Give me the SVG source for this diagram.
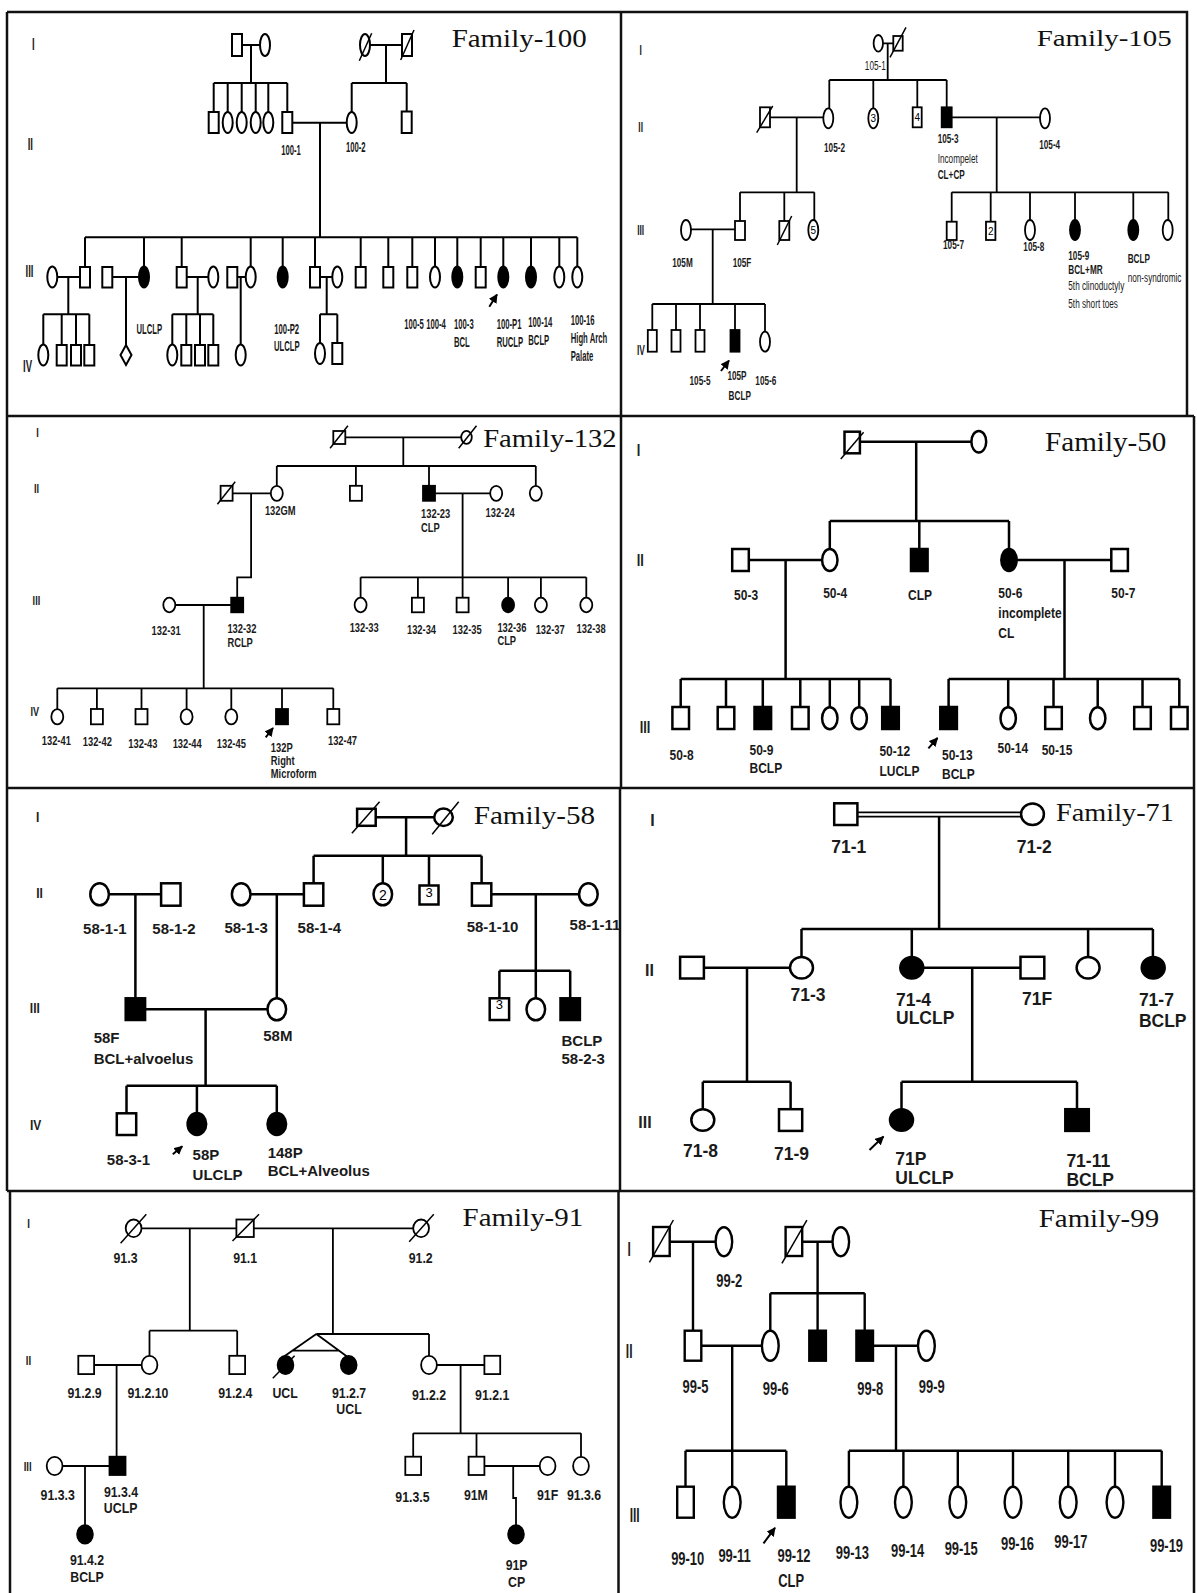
<svg xmlns="http://www.w3.org/2000/svg" width="1197" height="1593" viewBox="0 0 1197 1593">
<defs>
<style>
.ln{fill:none;stroke:#000}
.s{fill:#fff;stroke:#000}
.f{fill:#000;stroke:#000}
.d{stroke:#000;stroke-width:1.5}
.ar{stroke:#000;stroke-width:2;marker-end:url(#ah)}
.t{font-family:"Liberation Sans",Arial,sans-serif;font-weight:bold;fill:#1a1a1a}
.r{font-family:"Liberation Sans",Arial,sans-serif;fill:#1a1a1a}
.g{font-family:"Liberation Sans",Arial,sans-serif;font-weight:bold;fill:#222;text-anchor:middle}
.ttl{font-family:"Liberation Serif","Times New Roman",serif;fill:#111}
.fr{fill:none;stroke:#111;stroke-width:2.5}
.n{font-family:"Liberation Sans",Arial,sans-serif;fill:#000;text-anchor:middle}
</style>
<marker id="ah" viewBox="0 0 10 10" refX="9" refY="5" markerWidth="4.5" markerHeight="4.5" orient="auto" markerUnits="strokeWidth"><path d="M0,0L10,5L0,10z" fill="#000"/></marker>
</defs>
<rect width="1197" height="1593" fill="#fff"/>

<g id="frames" class="fr">
<path d="M7,12H1187V416M7,12V1191M621,12V416M7,416H1194M621,416V788M1194,416V1191M7,788H1194M620,788V1191M7,1191H1194M10,1191V1593M618.5,1191V1593M1194,1191V1593"/>
</g>

<!-- ================= Family-100 ================= -->
<g id="fam100" stroke-width="2" font-size="14">
<text class="ttl" x="451.7" y="46.7" font-size="25" textLength="135" lengthAdjust="spacingAndGlyphs">Family-100</text>
<g class="g" font-size="16">
<text transform="translate(33.3 50) scale(.6 1)">I</text>
<text transform="translate(30.3 150) scale(.6 1)">II</text>
<text transform="translate(29.5 277) scale(.6 1)">III</text>
<text transform="translate(27.5 371.7) scale(.6 1)">IV</text>
</g>
<g id="f100-links" class="ln">
<path d="M242,45H260M251,45V83M213.7,83H287.3M213.7,83V112M227.7,83V112M241.7,83V112M255.7,83V112M268.3,83V112M287.3,83V112M370,45H402M386,45V83M351.7,83H406.7M351.7,83V112M406.7,83V111M292.3,122.7H346.7M320,122.7V237.3M85,237.3H577.3"/>
<path d="M85,237.3V267M144,237.3V266.5M181.7,237.3V267M250.7,237.3V266.5M282.7,237.3V266.5M315,237.3V267M360.7,237.3V267M388.3,237.3V267M412.3,237.3V267M435,237.3V266.5M457.3,237.3V266.5M480.7,237.3V267M503.3,237.3V266.5M531,237.3V266.5M559.3,237.3V266.5M577.3,237.3V266.5"/>
<path d="M57.3,277H80M68.3,277V314.3M43.3,314.3H89.3M43.3,314.3V344.5M61.7,314.3V345M76,314.3V345M89.3,314.3V345M112.3,277H139M126,277V345M186.7,277H208.3M197.7,277V314.3M172.3,314.3H213.3M172.3,314.3V344.5M186.3,314.3V345M200,314.3V345M213.3,314.3V345M237.3,277H245.7M240.7,277V344.5M320,277H332.3M326.7,277V314.3M320,314.3H337.3M320,314.3V343M337.3,314.3V343"/>
<line class="ar" x1="489.3" y1="306.7" x2="497" y2="294.5"/>
</g>
<g id="f100-I1"><rect class="s" x="232" y="34" width="10" height="22"/></g>
<g id="f100-I2"><ellipse class="s" cx="265" cy="45" rx="5" ry="11"/></g>
<g id="f100-I3"><ellipse class="s" cx="365" cy="45" rx="5" ry="11"/><line class="d" x1="359.3" y1="60.7" x2="371.7" y2="33.3"/></g>
<g id="f100-I4"><rect class="s" x="402" y="34" width="10" height="22"/><line class="d" x1="400.7" y1="60" x2="414" y2="30"/></g>
<g id="f100-II1"><rect class="s" x="208.7" y="112" width="10" height="21"/></g>
<g id="f100-II2"><ellipse class="s" cx="227.7" cy="122.5" rx="5" ry="10.5"/></g>
<g id="f100-II3"><ellipse class="s" cx="241.7" cy="122.5" rx="5" ry="10.5"/></g>
<g id="f100-II4"><ellipse class="s" cx="255.7" cy="122.5" rx="5" ry="10.5"/></g>
<g id="f100-II5"><ellipse class="s" cx="268.3" cy="122.5" rx="5" ry="10.5"/></g>
<g id="f100-1"><rect class="s" x="282.3" y="112" width="10" height="21"/><text class="t" text-anchor="middle" transform="translate(291 155) scale(.55 1)">100-1</text></g>
<g id="f100-2"><ellipse class="s" cx="351.7" cy="122.5" rx="5" ry="10.5"/><text class="t" text-anchor="middle" transform="translate(355.8 151.7) scale(.55 1)">100-2</text></g>
<g id="f100-II8"><rect class="s" x="401.7" y="111.5" width="10" height="21.5"/></g>
<g id="f100-III1"><ellipse class="s" cx="52.3" cy="277" rx="5" ry="10.5"/></g>
<g id="f100-III2"><rect class="s" x="80" y="267" width="10" height="20.5"/></g>
<g id="f100-III3"><rect class="s" x="102.3" y="267" width="10" height="20.5"/></g>
<g id="f100-III4"><ellipse class="f" cx="144" cy="277" rx="5" ry="10.5"/><text class="t" text-anchor="middle" transform="translate(149.3 334) scale(.55 1)">ULCLP</text></g>
<g id="f100-III5"><rect class="s" x="176.7" y="267" width="10" height="20.5"/></g>
<g id="f100-III6"><ellipse class="s" cx="213.3" cy="277" rx="5" ry="10.5"/></g>
<g id="f100-III7"><rect class="s" x="227.3" y="267" width="10" height="20.5"/></g>
<g id="f100-III8"><ellipse class="s" cx="250.7" cy="277" rx="5" ry="10.5"/></g>
<g id="f100-P2"><ellipse class="f" cx="282.7" cy="277" rx="5" ry="10.5"/><text class="t" text-anchor="middle" transform="translate(286.7 334) scale(.55 1)">100-P2</text><text class="t" text-anchor="middle" transform="translate(286.7 351) scale(.55 1)">ULCLP</text></g>
<g id="f100-III10"><rect class="s" x="310" y="267" width="10" height="20.5"/></g>
<g id="f100-III11"><ellipse class="s" cx="337.3" cy="277" rx="5" ry="10.5"/></g>
<g id="f100-III12"><rect class="s" x="355.7" y="267" width="10" height="20.5"/></g>
<g id="f100-III13"><rect class="s" x="383.3" y="267" width="10" height="20.5"/></g>
<g id="f100-5"><rect class="s" x="407.3" y="267" width="10" height="20.5"/><text class="t" text-anchor="middle" transform="translate(414 329) scale(.55 1)">100-5</text></g>
<g id="f100-4"><ellipse class="s" cx="435" cy="277" rx="5" ry="10.5"/><text class="t" text-anchor="middle" transform="translate(436 329) scale(.55 1)">100-4</text></g>
<g id="f100-3"><ellipse class="f" cx="457.3" cy="277" rx="5" ry="10.5"/><text class="t" transform="translate(454 329) scale(.55 1)">100-3</text><text class="t" transform="translate(454 347) scale(.55 1)">BCL</text></g>
<g id="f100-III17"><rect class="s" x="475.7" y="267" width="10" height="20.5"/></g>
<g id="f100-P1"><ellipse class="f" cx="503.3" cy="277" rx="5" ry="10.5"/><text class="t" transform="translate(496.7 329) scale(.55 1)">100-P1</text><text class="t" transform="translate(496.7 347) scale(.55 1)">RUCLP</text></g>
<g id="f100-14"><ellipse class="f" cx="531" cy="277" rx="5" ry="10.5"/><text class="t" transform="translate(528.3 327) scale(.55 1)">100-14</text><text class="t" transform="translate(528.3 345) scale(.55 1)">BCLP</text></g>
<g id="f100-III20"><ellipse class="s" cx="559.3" cy="277" rx="5" ry="10.5"/></g>
<g id="f100-16"><ellipse class="s" cx="577.3" cy="277" rx="5" ry="10.5"/><text class="t" transform="translate(570.7 325) scale(.55 1)">100-16</text><text class="t" transform="translate(570.7 343) scale(.55 1)">High Arch</text><text class="t" transform="translate(570.7 361) scale(.55 1)">Palate</text></g>
<g id="f100-IV1"><ellipse class="s" cx="43.3" cy="355" rx="5" ry="10.5"/></g>
<g id="f100-IV2"><rect class="s" x="56.7" y="345" width="10" height="20.5"/></g>
<g id="f100-IV3"><rect class="s" x="71" y="345" width="10" height="20.5"/></g>
<g id="f100-IV4"><rect class="s" x="84.3" y="345" width="10" height="20.5"/></g>
<g id="f100-IV5"><polygon class="s" points="126,345 131.5,355 126,365 120.5,355"/></g>
<g id="f100-IV6"><ellipse class="s" cx="172.3" cy="355" rx="5" ry="10.5"/></g>
<g id="f100-IV7"><rect class="s" x="181.3" y="345" width="10" height="20.5"/></g>
<g id="f100-IV8"><rect class="s" x="195" y="345" width="10" height="20.5"/></g>
<g id="f100-IV9"><rect class="s" x="208.3" y="345" width="10" height="20.5"/></g>
<g id="f100-IV10"><ellipse class="s" cx="240.7" cy="355" rx="5" ry="10.5"/></g>
<g id="f100-IV11"><ellipse class="s" cx="320" cy="353.5" rx="5" ry="10.5"/></g>
<g id="f100-IV12"><rect class="s" x="332.3" y="343" width="10" height="21"/></g>
</g>

<!-- ================= Family-105 ================= -->
<g id="fam105" stroke-width="1.8" font-size="13">
<text class="ttl" x="1036.7" y="45.7" font-size="23" textLength="135" lengthAdjust="spacingAndGlyphs">Family-105</text>
<g class="g" font-size="14">
<text transform="translate(640.7 55) scale(.6 1)">I</text>
<text transform="translate(640.7 131.7) scale(.6 1)">II</text>
<text transform="translate(640.7 235) scale(.6 1)">III</text>
<text transform="translate(641 355) scale(.6 1)">IV</text>
</g>
<g id="f105-links" class="ln">
<path d="M883,43.3H893.3M887.7,43.3V80M829.3,80H946.7M829.3,80V108.3M873.3,80V108.3M917.3,80V107.3M946.7,80V107.3"/>
<path d="M770,117.3H823.3M796.7,117.3V192.3M740,192.3H814.3M740,192.3V221M784.3,192.3V221M814.3,192.3V220"/>
<path d="M951.7,117.3H1040M996.7,117.3V192.3M951.7,192.3H1168.3M951.7,192.3V221.7M990.7,192.3V221.7M1030,192.3V220M1075,192.3V220M1133.3,192.3V220M1168.3,192.3V220"/>
<path d="M691,229.3H735M712.7,229.3V304M652.3,304H765M652.3,304V330M676,304V330M700,304V330M735,304V330M765,304V331.7"/>
<line class="ar" x1="721" y1="371" x2="729" y2="360.5"/>
</g>
<g id="f105-1"><ellipse class="s" cx="878.3" cy="43.3" rx="4.7" ry="8.3"/><text class="r" text-anchor="middle" transform="translate(875.3 70) scale(.63 1)">105-1</text></g>
<g id="f105-I2"><rect class="s" x="893.3" y="36" width="9.4" height="14.7"/><line class="d" x1="890" y1="57.3" x2="906" y2="27.3"/></g>
<g id="f105-II1"><rect class="s" x="760" y="107.3" width="10" height="20"/><line class="d" x1="756.7" y1="132.7" x2="772.7" y2="106"/></g>
<g id="f105-2"><ellipse class="s" cx="828.3" cy="118.3" rx="5" ry="10"/><text class="t" text-anchor="middle" transform="translate(834.5 151.7) scale(.63 1)">105-2</text></g>
<g id="f105-II3"><ellipse class="s" cx="873.3" cy="118.3" rx="5" ry="10"/><text class="n" x="873.3" y="121.8" font-size="10">3</text></g>
<g id="f105-II4"><rect class="s" x="912.7" y="107.3" width="9" height="20"/><text class="n" x="917.2" y="121" font-size="10">4</text></g>
<g id="f105-3"><rect class="f" x="941.7" y="107.3" width="10" height="20"/><text class="t" transform="translate(937.7 143) scale(.63 1)">105-3</text><text class="r" transform="translate(937.7 163) scale(.63 1)">Incompelet</text><text class="t" transform="translate(937.7 179) scale(.63 1)">CL+CP</text></g>
<g id="f105-4"><ellipse class="s" cx="1045" cy="118.3" rx="5" ry="10"/><text class="t" text-anchor="middle" transform="translate(1049.7 149) scale(.63 1)">105-4</text></g>
<g id="f105M"><ellipse class="s" cx="686" cy="230" rx="5" ry="10"/><text class="t" text-anchor="middle" transform="translate(682.5 266.7) scale(.63 1)">105M</text></g>
<g id="f105F"><rect class="s" x="735" y="221" width="10" height="19"/><text class="t" text-anchor="middle" transform="translate(742 266.7) scale(.63 1)">105F</text></g>
<g id="f105-III3"><rect class="s" x="779.3" y="221" width="10" height="19"/><line class="d" x1="777.3" y1="245" x2="791.7" y2="216"/></g>
<g id="f105-III4"><ellipse class="s" cx="813.3" cy="230" rx="5" ry="10"/><text class="n" x="813.3" y="233.5" font-size="10">5</text></g>
<g id="f105-7"><rect class="s" x="946.7" y="221.7" width="10" height="18.3"/><text class="t" text-anchor="middle" transform="translate(953.5 249) scale(.63 1)">105-7</text></g>
<g id="f105-III6"><rect class="s" x="986" y="221.7" width="9.4" height="18.3"/><text class="n" x="990.7" y="234.5" font-size="10">2</text></g>
<g id="f105-8"><ellipse class="s" cx="1030" cy="230" rx="5" ry="10"/><text class="t" text-anchor="middle" transform="translate(1033.8 251) scale(.63 1)">105-8</text></g>
<g id="f105-9"><ellipse class="f" cx="1075" cy="230" rx="5" ry="10"/><text class="t" transform="translate(1068.3 260) scale(.63 1)">105-9</text><text class="t" transform="translate(1068.3 274) scale(.63 1)">BCL+MR</text><text class="r" transform="translate(1068.3 290) scale(.63 1)">5th clinoductyly</text><text class="r" transform="translate(1068.3 308) scale(.63 1)">5th short toes</text></g>
<g id="f105-III9"><ellipse class="f" cx="1133.3" cy="230" rx="5" ry="10"/><text class="t" transform="translate(1127.7 263) scale(.63 1)">BCLP</text><text class="r" transform="translate(1127.7 282) scale(.63 1)">non-syndromic</text></g>
<g id="f105-III10"><ellipse class="s" cx="1167.7" cy="230" rx="5" ry="10"/></g>
<g id="f105-IV1"><rect class="s" x="647.8" y="330" width="9" height="21.7"/></g>
<g id="f105-IV2"><rect class="s" x="671.5" y="330" width="9" height="21.7"/></g>
<g id="f105-5"><rect class="s" x="695.5" y="330" width="9" height="21.7"/><text class="t" text-anchor="middle" transform="translate(700 385) scale(.63 1)">105-5</text></g>
<g id="f105P"><rect class="f" x="730.5" y="330" width="9" height="21.7"/><text class="t" text-anchor="middle" transform="translate(737 380) scale(.63 1)">105P</text><text class="t" text-anchor="middle" transform="translate(739.7 400) scale(.63 1)">BCLP</text></g>
<g id="f105-6"><ellipse class="s" cx="765" cy="341.7" rx="5" ry="10"/><text class="t" text-anchor="middle" transform="translate(765.8 385) scale(.63 1)">105-6</text></g>
</g>

<!-- ================= Family-132 ================= -->
<g id="fam132" stroke-width="1.8" font-size="13">
<text class="ttl" x="483.2" y="446.7" font-size="25" textLength="133.5" lengthAdjust="spacingAndGlyphs">Family-132</text>
<g class="g" font-size="13">
<text transform="translate(37.6 437) scale(.7 1)">I</text>
<text transform="translate(36.4 493) scale(.7 1)">II</text>
<text transform="translate(36.4 605) scale(.7 1)">III</text>
<text transform="translate(34.8 716) scale(.7 1)">IV</text>
</g>
<g id="f132-links" class="ln">
<path d="M345.2,437.3H461.8M403.3,437.3V466M276.8,466H535.8M276.8,466V485.8M355.9,466V485.8M429,466V485.8M535.8,466V485.8"/>
<path d="M232.5,493.3H270.8M251.1,493.3V577.3H237.2V597.7M435,493.3H490.2M462.6,493.3V577.3M360.6,577.3H586.3M360.6,577.3V597.7M417.9,577.3V597.7M462.6,577.3V597.7M508.1,577.3V597.7M540.9,577.3V597.7M586.3,577.3V597.7"/>
<path d="M175.3,605H231.2M203.7,605V688.3M57.3,688.3H333.3M57.3,688.3V709M96.9,688.3V709M141.5,688.3V709M186.6,688.3V709M231.3,688.3V709M282,688.3V709M333.3,688.3V709"/>
<line class="ar" x1="265.7" y1="737.3" x2="273" y2="728"/>
</g>
<g id="f132-I1"><rect class="s" x="333.3" y="431" width="12" height="13"/><line class="d" x1="330.1" y1="448.3" x2="347.9" y2="425.7"/></g>
<g id="f132-I2"><ellipse class="s" cx="466.5" cy="437.3" rx="5.3" ry="6.5"/><line class="d" x1="458.7" y1="448.3" x2="476.5" y2="425.7"/></g>
<g id="f132-II1"><rect class="s" x="220.6" y="485.8" width="12" height="15"/><line class="d" x1="217.4" y1="504.3" x2="235.2" y2="481.7"/></g>
<g id="f132GM"><ellipse class="s" cx="276.8" cy="493.3" rx="6" ry="7.5"/><text class="t" transform="translate(264.9 515) scale(.72 1)">132GM</text></g>
<g id="f132-II3"><rect class="s" x="349.9" y="485.8" width="12" height="15"/></g>
<g id="f132-23"><rect class="f" x="423" y="485.8" width="12" height="15"/><text class="t" transform="translate(421.1 518) scale(.72 1)">132-23</text><text class="t" transform="translate(421.1 531.7) scale(.72 1)">CLP</text></g>
<g id="f132-24"><ellipse class="s" cx="496.2" cy="493.3" rx="6" ry="7.5"/><text class="t" transform="translate(485.5 516.7) scale(.72 1)">132-24</text></g>
<g id="f132-II6"><ellipse class="s" cx="535.8" cy="493.3" rx="6" ry="7.5"/></g>
<g id="f132-31"><ellipse class="s" cx="169.3" cy="605" rx="6" ry="7.3"/><text class="t" text-anchor="middle" transform="translate(166.1 635) scale(.72 1)">132-31</text></g>
<g id="f132-32"><rect class="f" x="231.2" y="597.7" width="12" height="14.6"/><text class="t" transform="translate(227.4 633.3) scale(.72 1)">132-32</text><text class="t" transform="translate(227.4 647) scale(.72 1)">RCLP</text></g>
<g id="f132-33"><ellipse class="s" cx="360.6" cy="605" rx="6" ry="7.3"/><text class="t" text-anchor="middle" transform="translate(364.2 632) scale(.72 1)">132-33</text></g>
<g id="f132-34"><rect class="s" x="411.9" y="597.7" width="12" height="14.6"/><text class="t" text-anchor="middle" transform="translate(421.5 634) scale(.72 1)">132-34</text></g>
<g id="f132-35"><rect class="s" x="456.6" y="597.7" width="12" height="14.6"/><text class="t" text-anchor="middle" transform="translate(467.1 634) scale(.72 1)">132-35</text></g>
<g id="f132-36"><ellipse class="f" cx="508.1" cy="605" rx="6" ry="7.3"/><text class="t" transform="translate(497.4 632) scale(.72 1)">132-36</text><text class="t" transform="translate(497.4 645) scale(.72 1)">CLP</text></g>
<g id="f132-37"><ellipse class="s" cx="540.9" cy="605" rx="6" ry="7.3"/><text class="t" text-anchor="middle" transform="translate(550.2 634) scale(.72 1)">132-37</text></g>
<g id="f132-38"><ellipse class="s" cx="586.3" cy="605" rx="6" ry="7.3"/><text class="t" text-anchor="middle" transform="translate(591.1 633) scale(.72 1)">132-38</text></g>
<g id="f132-41"><ellipse class="s" cx="57.3" cy="716.7" rx="6" ry="7.6"/><text class="t" text-anchor="middle" transform="translate(56.3 745) scale(.72 1)">132-41</text></g>
<g id="f132-42"><rect class="s" x="90.9" y="709" width="12" height="15.3"/><text class="t" text-anchor="middle" transform="translate(97.3 746) scale(.72 1)">132-42</text></g>
<g id="f132-43"><rect class="s" x="135.5" y="709" width="12" height="15.3"/><text class="t" text-anchor="middle" transform="translate(142.9 748) scale(.72 1)">132-43</text></g>
<g id="f132-44"><ellipse class="s" cx="186.6" cy="716.7" rx="6" ry="7.6"/><text class="t" text-anchor="middle" transform="translate(187.2 748) scale(.72 1)">132-44</text></g>
<g id="f132-45"><ellipse class="s" cx="231.3" cy="716.7" rx="6" ry="7.6"/><text class="t" text-anchor="middle" transform="translate(231.3 748) scale(.72 1)">132-45</text></g>
<g id="f132P"><rect class="f" x="276" y="709" width="12" height="15.3"/><text class="t" transform="translate(270.8 752) scale(.72 1)">132P</text><text class="t" transform="translate(270.8 765) scale(.72 1)">Right</text><text class="t" transform="translate(270.8 778) scale(.72 1)">Microform</text></g>
<g id="f132-47"><rect class="s" x="327.3" y="709" width="12" height="15.3"/><text class="t" text-anchor="middle" transform="translate(342.5 745) scale(.72 1)">132-47</text></g>
</g>

<!-- ================= Family-50 ================= -->
<g id="fam50" stroke-width="2.5" font-size="15">
<text class="ttl" x="1045" y="450.7" font-size="27" textLength="121.4" lengthAdjust="spacingAndGlyphs">Family-50</text>
<g class="g" font-size="17">
<text transform="translate(638.4 455.7) scale(.75 1)">I</text>
<text transform="translate(640.2 565.7) scale(.75 1)">II</text>
<text transform="translate(645 733.3) scale(.75 1)">III</text>
</g>
<g id="f50-links" class="ln">
<path d="M859.9,441.7H971.4M916.2,441.7V521M829.8,521H1009M829.8,521V549M919.3,521V549M1009,521V549"/>
<path d="M748.8,560H822.1M785.6,560V679M680.7,679H890.5M680.7,679V707M726,679V707M762.8,679V707M800.3,679V707M829.8,679V707M859.2,679V707M890.5,679V707"/>
<path d="M1016.7,560H1111.3M1064.5,560V679M948.6,679H1179.3M948.6,679V707M1008.2,679V707M1053.5,679V707M1097.7,679V707M1142.5,679V707M1179.3,679V707"/>
<line class="ar" x1="928.4" y1="748.3" x2="937.5" y2="738"/>
</g>
<g id="f50-I1"><rect class="s" x="844.5" y="431.7" width="15.4" height="21.6"/><line class="d" x1="840.8" y1="459" x2="863.6" y2="432.3"/></g>
<g id="f50-I2"><ellipse class="s" cx="978.8" cy="441.7" rx="7.4" ry="10.8"/></g>
<g id="f50-3"><rect class="s" x="732.2" y="549" width="16.6" height="22"/><text class="t" text-anchor="middle" transform="translate(746.1 600) scale(.8 1)">50-3</text></g>
<g id="f50-4"><ellipse class="s" cx="829.8" cy="560" rx="7.7" ry="11"/><text class="t" text-anchor="middle" transform="translate(835.2 598.3) scale(.8 1)">50-4</text></g>
<g id="f50-5"><rect class="f" x="911" y="549" width="16.6" height="22"/><text class="t" text-anchor="middle" transform="translate(920 600) scale(.8 1)">CLP</text></g>
<g id="f50-6"><ellipse class="f" cx="1009" cy="560" rx="7.7" ry="11"/><text class="t" transform="translate(998.3 598.3) scale(.8 1)">50-6</text><text class="t" transform="translate(998.3 618) scale(.8 1)">incomplete</text><text class="t" transform="translate(998.3 638.3) scale(.8 1)">CL</text></g>
<g id="f50-7"><rect class="s" x="1111.3" y="549" width="16.6" height="22"/><text class="t" text-anchor="middle" transform="translate(1123.3 598.3) scale(.8 1)">50-7</text></g>
<g id="f50-8"><rect class="s" x="672.4" y="707" width="16.6" height="22"/><text class="t" text-anchor="middle" transform="translate(681.6 760) scale(.8 1)">50-8</text></g>
<g id="f50-III2"><rect class="s" x="717.7" y="707" width="16.6" height="22"/></g>
<g id="f50-9"><rect class="f" x="754.5" y="707" width="16.6" height="22"/><text class="t" transform="translate(749.5 755) scale(.8 1)">50-9</text><text class="t" transform="translate(749.5 773.3) scale(.8 1)">BCLP</text></g>
<g id="f50-III4"><rect class="s" x="792" y="707" width="16.6" height="22"/></g>
<g id="f50-III5"><ellipse class="s" cx="829.8" cy="718.3" rx="7.7" ry="11"/></g>
<g id="f50-III6"><ellipse class="s" cx="859.2" cy="718.3" rx="7.7" ry="11"/></g>
<g id="f50-12"><rect class="f" x="882.2" y="707" width="16.6" height="22"/><text class="t" transform="translate(879.4 756) scale(.8 1)">50-12</text><text class="t" transform="translate(879.4 775.7) scale(.8 1)">LUCLP</text></g>
<g id="f50-13"><rect class="f" x="940.3" y="707" width="16.6" height="22"/><text class="t" transform="translate(942 760) scale(.8 1)">50-13</text><text class="t" transform="translate(942 779) scale(.8 1)">BCLP</text></g>
<g id="f50-14"><ellipse class="s" cx="1008.2" cy="718.3" rx="7.7" ry="11"/><text class="t" text-anchor="middle" transform="translate(1012.8 753) scale(.8 1)">50-14</text></g>
<g id="f50-15"><rect class="s" x="1045.2" y="707" width="16.6" height="22"/><text class="t" text-anchor="middle" transform="translate(1057 755) scale(.8 1)">50-15</text></g>
<g id="f50-III10"><ellipse class="s" cx="1097.7" cy="718.3" rx="7.7" ry="11"/></g>
<g id="f50-III11"><rect class="s" x="1134.2" y="707" width="16.6" height="22"/></g>
<g id="f50-III12"><rect class="s" x="1171" y="707" width="16.6" height="22"/></g>
</g>

<!-- ================= Family-58 ================= -->
<g id="fam58" stroke-width="2.5" font-size="15">
<text class="ttl" x="473.7" y="824" font-size="25" textLength="121.4" lengthAdjust="spacingAndGlyphs">Family-58</text>
<g class="g" font-size="15">
<text transform="translate(37.6 822.3) scale(.8 1)">I</text>
<text transform="translate(39.5 898.3) scale(.8 1)">II</text>
<text transform="translate(34.8 1013) scale(.8 1)">III</text>
<text transform="translate(35.6 1130) scale(.8 1)">IV</text>
</g>
<g id="f58-links" class="ln">
<path d="M375.6,817.3H434.2M406.1,817.3V855.7M313.6,855.7H481.6M313.6,855.7V883.3M382.8,855.7V883.3M429,855.7V885.5M481.6,855.7V883.3"/>
<path d="M108.9,894.3H161.1M135.4,894.3V998.3M250.5,894.3H303.9M276.8,894.3V998.3M491.3,894.3H579.1M535.8,894.3V970.7M499.4,970.7H570.2M499.4,970.7V998.3M535.8,970.7V998.3M570.2,970.7V998.3"/>
<path d="M145.1,1009.3H267.5M205.6,1009.3V1085.7M126.5,1085.7H276.8M126.5,1085.7V1113.3M196.9,1085.7V1113M276.8,1085.7V1113"/>
<line class="ar" x1="172.8" y1="1154.3" x2="182.3" y2="1146.3"/>
</g>
<g id="f58-I1"><rect class="s" x="357.1" y="808.8" width="18.6" height="17"/><line class="d" x1="351.9" y1="833.3" x2="379.6" y2="801.7"/></g>
<g id="f58-I2"><ellipse class="s" cx="443.5" cy="817.3" rx="9.3" ry="8.7"/><line class="d" x1="432.2" y1="834.3" x2="458.7" y2="801.7"/></g>
<g id="f58-1-1"><ellipse class="s" cx="99.6" cy="894.3" rx="9.3" ry="11"/><text class="t" text-anchor="middle" x="104.8" y="934.3">58-1-1</text></g>
<g id="f58-1-2"><rect class="s" x="161.1" y="883.3" width="19.4" height="22.4"/><text class="t" text-anchor="middle" x="174" y="934.3">58-1-2</text></g>
<g id="f58-1-3"><ellipse class="s" cx="241.2" cy="894.3" rx="9.3" ry="11"/><text class="t" text-anchor="middle" x="246.1" y="933">58-1-3</text></g>
<g id="f58-1-4"><rect class="s" x="303.9" y="883.3" width="19.4" height="22.4"/><text class="t" text-anchor="middle" x="319.3" y="933">58-1-4</text></g>
<g id="f58-II5"><ellipse class="s" cx="382.8" cy="894.3" rx="9.3" ry="11"/><text class="n" x="382.8" y="899.5" font-size="14">2</text></g>
<g id="f58-II6"><rect class="s" x="419.5" y="885.5" width="19" height="19"/><text class="n" x="429" y="896.5" font-size="13">3</text></g>
<g id="f58-1-10"><rect class="s" x="471.9" y="883.3" width="19.4" height="22.4"/><text class="t" text-anchor="middle" x="492.5" y="932">58-1-10</text></g>
<g id="f58-1-11"><ellipse class="s" cx="588.4" cy="894.3" rx="9.3" ry="11"/><text class="t" text-anchor="middle" x="595" y="930">58-1-11</text></g>
<g id="f58F"><rect class="f" x="125.7" y="998.3" width="19.4" height="21.7"/><text class="t" x="93.7" y="1043">58F</text><text class="t" x="93.7" y="1064">BCL+alvoelus</text></g>
<g id="f58M"><ellipse class="s" cx="276.8" cy="1009.3" rx="9.3" ry="11"/><text class="t" text-anchor="middle" x="277.8" y="1041">58M</text></g>
<g id="f58-III3"><rect class="s" x="489.7" y="998.3" width="19.4" height="21.7"/><text class="n" x="499.4" y="1009" font-size="13">3</text></g>
<g id="f58-III4"><ellipse class="s" cx="535.8" cy="1009.3" rx="9.3" ry="11"/></g>
<g id="f58-2-3"><rect class="f" x="560.5" y="998.3" width="19.4" height="21.7"/><text class="t" x="561.5" y="1046">BCLP</text><text class="t" x="561.5" y="1064">58-2-3</text></g>
<g id="f58-3-1"><rect class="s" x="116.8" y="1113.3" width="19.4" height="21.7"/><text class="t" text-anchor="middle" x="128.5" y="1165">58-3-1</text></g>
<g id="f58P"><ellipse class="f" cx="196.9" cy="1124" rx="9.3" ry="11"/><text class="t" x="192.6" y="1160">58P</text><text class="t" x="192.6" y="1180">ULCLP</text></g>
<g id="f148P"><ellipse class="f" cx="276.8" cy="1124" rx="9.3" ry="11"/><text class="t" x="267.7" y="1158">148P</text><text class="t" x="267.7" y="1176">BCL+Alveolus</text></g>
</g>

<!-- ================= Family-71 ================= -->
<g id="fam71" stroke-width="2.5" font-size="17.5">
<text class="ttl" x="1056.1" y="821" font-size="25" textLength="117.7" lengthAdjust="spacingAndGlyphs">Family-71</text>
<g class="g" font-size="16">
<text x="652.4" y="825.7">I</text>
<text x="649.4" y="975.7">II</text>
<text x="645" y="1128.3">III</text>
</g>
<g id="f71-links" class="ln">
<path d="M857.4,812.3H1021.1M857.4,816.7H1021.1" stroke-width="1.8"/>
<path d="M939.1,816.7V929M801.5,929H1152.9M801.5,929V957M911.8,929V957M1088.1,929V957M1152.9,929V957"/>
<path d="M703.9,967.7H790M747,967.7V1081.7M702.8,1081.7H790.6M702.8,1081.7V1109.2M790.6,1081.7V1109.2M923.3,967.7H1020.5M972.2,967.7V1081.7M901.5,1081.7H1077M901.5,1081.7V1109.2M1077,1081.7V1109.2"/>
<line class="ar" x1="869.5" y1="1150" x2="883.5" y2="1136.5"/>
</g>
<g id="f71-1"><rect class="s" x="834.2" y="803.3" width="23.2" height="21.7"/><text class="t" text-anchor="middle" x="848.7" y="853.3">71-1</text></g>
<g id="f71-2"><ellipse class="s" cx="1032.5" cy="814.3" rx="11.4" ry="10.8"/><text class="t" text-anchor="middle" x="1034.2" y="853.3">71-2</text></g>
<g id="f71-II1"><rect class="s" x="680.1" y="956.8" width="23.8" height="21.7"/></g>
<g id="f71-3"><ellipse class="s" cx="801.5" cy="967.7" rx="11.5" ry="10.8"/><text class="t" text-anchor="middle" x="808" y="1001">71-3</text></g>
<g id="f71-4"><ellipse class="f" cx="911.8" cy="967.7" rx="11.5" ry="10.8"/><text class="t" x="896" y="1005.7">71-4</text><text class="t" x="896" y="1024">ULCLP</text></g>
<g id="f71F"><rect class="s" x="1020.5" y="956.8" width="23.8" height="21.7"/><text class="t" text-anchor="middle" x="1037.1" y="1005">71F</text></g>
<g id="f71-II5"><ellipse class="s" cx="1088.1" cy="967.7" rx="11.5" ry="10.8"/></g>
<g id="f71-7"><ellipse class="f" cx="1153.2" cy="967.7" rx="11.5" ry="10.8"/><text class="t" x="1138.9" y="1005.7">71-7</text><text class="t" x="1138.9" y="1027">BCLP</text></g>
<g id="f71-8"><ellipse class="s" cx="702.8" cy="1120" rx="11.5" ry="10.8"/><text class="t" text-anchor="middle" x="700.6" y="1157">71-8</text></g>
<g id="f71-9"><rect class="s" x="779" y="1109.2" width="23.2" height="21.7"/><text class="t" text-anchor="middle" x="791.6" y="1159.7">71-9</text></g>
<g id="f71P"><ellipse class="f" cx="901.5" cy="1120" rx="11.5" ry="10.8"/><text class="t" x="895.3" y="1165">71P</text><text class="t" x="895.3" y="1184">ULCLP</text></g>
<g id="f71-11"><rect class="f" x="1065.3" y="1109.2" width="23.5" height="21.7"/><text class="t" x="1066.4" y="1167">71-11</text><text class="t" x="1066.4" y="1186">BCLP</text></g>
</g>

<!-- ================= Family-91 ================= -->
<g id="fam91" stroke-width="1.8" font-size="14">
<text class="ttl" x="462.6" y="1225.7" font-size="25" textLength="120.6" lengthAdjust="spacingAndGlyphs">Family-91</text>
<g class="g" font-size="12">
<text transform="translate(28.5 1228.3) scale(.8 1)">I</text>
<text transform="translate(28.5 1365) scale(.8 1)">II</text>
<text transform="translate(27.7 1471) scale(.8 1)">III</text>
</g>
<g id="f91-links" class="ln">
<path d="M141.6,1228.3H236.4M253.8,1228.3H413.2M189.8,1228.3V1330.7M149.5,1330.7H237.2M149.5,1330.7V1355.8M237.2,1330.7V1355.8"/>
<path d="M332.9,1228.3V1334M316.3,1334H429M429,1334V1355.8M316.3,1334L284,1356.5M316.3,1334L347,1356.5M291.8,1350.7H339.6"/>
<path d="M94.1,1365H141.6M116.6,1365V1456.7M436.9,1365H484.4M460.6,1365V1433.3M413.2,1433.3H581M413.2,1433.3V1456.7M476.5,1433.3V1456.7M581,1433.3V1456.8"/>
<path d="M62.5,1466H109.5M85,1466V1525M484.4,1466H539.7M513.2,1466V1498H516V1525"/>
</g>
<g id="f91-3"><ellipse class="s" cx="133.6" cy="1228.3" rx="7.9" ry="8.8"/><line class="d" x1="120.6" y1="1243.3" x2="146.3" y2="1214.3"/><text class="t" text-anchor="middle" transform="translate(125.5 1263.3) scale(.88 1)">91.3</text></g>
<g id="f91-1"><rect class="s" x="236.4" y="1219.5" width="17.4" height="17.5"/><line class="d" x1="232.5" y1="1241" x2="259" y2="1214.3"/><text class="t" text-anchor="middle" transform="translate(245.1 1263.3) scale(.88 1)">91.1</text></g>
<g id="f91-2"><ellipse class="s" cx="421.1" cy="1228.3" rx="7.9" ry="8.8"/><line class="d" x1="409.2" y1="1241.7" x2="433.8" y2="1214.3"/><text class="t" text-anchor="middle" transform="translate(420.7 1263.3) scale(.88 1)">91.2</text></g>
<g id="f91-2-9"><rect class="s" x="78.3" y="1355.8" width="15.8" height="18.3"/><text class="t" text-anchor="middle" transform="translate(84.6 1398.3) scale(.88 1)">91.2.9</text></g>
<g id="f91-2-10"><ellipse class="s" cx="149.5" cy="1365" rx="7.9" ry="9.2"/><text class="t" text-anchor="middle" transform="translate(147.9 1398.3) scale(.88 1)">91.2.10</text></g>
<g id="f91-2-4"><rect class="s" x="229.3" y="1355.8" width="15.8" height="18.3"/><text class="t" text-anchor="middle" transform="translate(235.3 1398.3) scale(.88 1)">91.2.4</text></g>
<g id="f91-UCL"><ellipse class="f" cx="285.5" cy="1365" rx="7.9" ry="9.2"/><line class="d" x1="272.8" y1="1378.3" x2="294.6" y2="1355.7"/><text class="t" text-anchor="middle" transform="translate(285.1 1398.3) scale(.88 1)">UCL</text></g>
<g id="f91-2-7"><ellipse class="f" cx="348.7" cy="1365" rx="7.9" ry="9.2"/><text class="t" text-anchor="middle" transform="translate(349.1 1397.7) scale(.88 1)">91.2.7</text><text class="t" text-anchor="middle" transform="translate(349 1414.3) scale(.88 1)">UCL</text></g>
<g id="f91-2-2"><ellipse class="s" cx="429" cy="1365" rx="7.9" ry="9.2"/><text class="t" text-anchor="middle" transform="translate(429 1400) scale(.88 1)">91.2.2</text></g>
<g id="f91-2-1"><rect class="s" x="484.4" y="1355.8" width="15.8" height="18.3"/><text class="t" text-anchor="middle" transform="translate(492.2 1400) scale(.88 1)">91.2.1</text></g>
<g id="f91-3-3"><ellipse class="s" cx="54.6" cy="1466" rx="7.9" ry="9.2"/><text class="t" text-anchor="middle" transform="translate(57.7 1500) scale(.88 1)">91.3.3</text></g>
<g id="f91-3-4"><rect class="f" x="109.5" y="1456.7" width="16" height="18.3"/><text class="t" text-anchor="middle" transform="translate(121 1496.7) scale(.88 1)">91.3.4</text><text class="t" text-anchor="middle" transform="translate(120.6 1513.3) scale(.88 1)">UCLP</text></g>
<g id="f91-3-5"><rect class="s" x="405.3" y="1456.7" width="15.8" height="18.3"/><text class="t" text-anchor="middle" transform="translate(412.4 1501.7) scale(.88 1)">91.3.5</text></g>
<g id="f91M"><rect class="s" x="468.6" y="1456.7" width="15.8" height="18.3"/><text class="t" text-anchor="middle" transform="translate(475.9 1500) scale(.88 1)">91M</text></g>
<g id="f91F"><ellipse class="s" cx="547.6" cy="1466" rx="7.9" ry="9.2"/><text class="t" text-anchor="middle" transform="translate(547.6 1500) scale(.88 1)">91F</text></g>
<g id="f91-3-6"><ellipse class="s" cx="581" cy="1466" rx="7.9" ry="9.2"/><text class="t" text-anchor="middle" transform="translate(584 1500) scale(.88 1)">91.3.6</text></g>
<g id="f91-4-2"><ellipse class="f" cx="85" cy="1534.3" rx="7.9" ry="9.2"/><text class="t" text-anchor="middle" transform="translate(87 1565) scale(.88 1)">91.4.2</text><text class="t" text-anchor="middle" transform="translate(87 1581.7) scale(.88 1)">BCLP</text></g>
<g id="f91P"><ellipse class="f" cx="516" cy="1534.3" rx="7.9" ry="9.2"/><text class="t" text-anchor="middle" transform="translate(516.6 1570) scale(.88 1)">91P</text><text class="t" text-anchor="middle" transform="translate(516.6 1586.7) scale(.88 1)">CP</text></g>
</g>

<!-- ================= Family-99 ================= -->
<g id="fam99" stroke-width="2.4" font-size="18">
<text class="ttl" x="1038.8" y="1227.3" font-size="25" textLength="120.3" lengthAdjust="spacingAndGlyphs">Family-99</text>
<g class="g" font-size="20">
<text transform="translate(629.2 1255.7) scale(.6 1)">I</text>
<text transform="translate(629.2 1358.3) scale(.6 1)">II</text>
<text transform="translate(634.7 1521.7) scale(.6 1)">III</text>
</g>
<g id="f99-links" class="ln">
<path d="M669.7,1241.7H715.6M693,1241.7V1330.7M802.2,1241.7H832.4M817.6,1241.7V1293.3M770.3,1293.3H864.7M770.3,1293.3V1330.7M817.6,1293.3V1330.7M864.7,1293.3V1330.7"/>
<path d="M701.7,1345.7H761.9M732.2,1345.7V1450.7M685.5,1450.7H786.3M685.5,1450.7V1486.7M732.2,1450.7V1486.7M786.3,1450.7V1486.7"/>
<path d="M873.2,1345.7H918M896,1345.7V1450.7M848.9,1450.7H1161.7M848.9,1450.7V1486.7M903.4,1450.7V1486.7M957.8,1450.7V1486.7M1013,1450.7V1486.7M1068.2,1450.7V1486.7M1115,1450.7V1486.7M1161.7,1450.7V1486.7"/>
<line class="ar" x1="763.5" y1="1543.3" x2="775" y2="1527.8"/>
</g>
<g id="f99-1"><rect class="s" x="653.1" y="1227" width="16.6" height="29"/><line class="d" x1="649.4" y1="1262.3" x2="673.4" y2="1220"/></g>
<g id="f99-2"><ellipse class="s" cx="723.9" cy="1241.7" rx="8.3" ry="14.5"/><text class="t" text-anchor="middle" transform="translate(729.3 1286.7) scale(.72 1)">99-2</text></g>
<g id="f99-3"><rect class="s" x="785.6" y="1227" width="16.6" height="29"/><line class="d" x1="781.9" y1="1263.3" x2="806.9" y2="1220"/></g>
<g id="f99-4"><ellipse class="s" cx="840.8" cy="1241.7" rx="8.3" ry="14.5"/></g>
<g id="f99-5"><rect class="s" x="684.7" y="1330.7" width="16.6" height="30"/><text class="t" text-anchor="middle" transform="translate(695.5 1393.3) scale(.72 1)">99-5</text></g>
<g id="f99-6"><ellipse class="s" cx="770.3" cy="1345.7" rx="8.4" ry="15"/><text class="t" text-anchor="middle" transform="translate(775.7 1395) scale(.72 1)">99-6</text></g>
<g id="f99-7"><rect class="f" x="809.3" y="1330.7" width="16.6" height="30"/></g>
<g id="f99-8"><rect class="f" x="856.4" y="1330.7" width="16.6" height="30"/><text class="t" text-anchor="middle" transform="translate(870.3 1395) scale(.72 1)">99-8</text></g>
<g id="f99-9"><ellipse class="s" cx="926.4" cy="1345.7" rx="8.4" ry="15"/><text class="t" text-anchor="middle" transform="translate(931.7 1393.3) scale(.72 1)">99-9</text></g>
<g id="f99-10"><rect class="s" x="677.2" y="1486.7" width="16.6" height="31"/><text class="t" text-anchor="middle" transform="translate(687.7 1565) scale(.72 1)">99-10</text></g>
<g id="f99-11"><ellipse class="s" cx="732.2" cy="1502.2" rx="8.4" ry="15.5"/><text class="t" text-anchor="middle" transform="translate(734.6 1561.7) scale(.72 1)">99-11</text></g>
<g id="f99-12"><rect class="f" x="778" y="1486.7" width="16.6" height="31"/><text class="t" text-anchor="middle" transform="translate(794 1561.7) scale(.72 1)">99-12</text><text class="t" transform="translate(778.2 1586.7) scale(.72 1)">CLP</text></g>
<g id="f99-13"><ellipse class="s" cx="848.9" cy="1502.2" rx="8.4" ry="15.5"/><text class="t" text-anchor="middle" transform="translate(852.4 1559) scale(.72 1)">99-13</text></g>
<g id="f99-14"><ellipse class="s" cx="903.4" cy="1502.2" rx="8.4" ry="15.5"/><text class="t" text-anchor="middle" transform="translate(907.6 1556.7) scale(.72 1)">99-14</text></g>
<g id="f99-15"><ellipse class="s" cx="957.8" cy="1502.2" rx="8.4" ry="15.5"/><text class="t" text-anchor="middle" transform="translate(961.2 1555) scale(.72 1)">99-15</text></g>
<g id="f99-16"><ellipse class="s" cx="1013" cy="1502.2" rx="8.4" ry="15.5"/><text class="t" text-anchor="middle" transform="translate(1017.5 1550) scale(.72 1)">99-16</text></g>
<g id="f99-17"><ellipse class="s" cx="1068.2" cy="1502.2" rx="8.4" ry="15.5"/><text class="t" text-anchor="middle" transform="translate(1070.8 1548.3) scale(.72 1)">99-17</text></g>
<g id="f99-18"><ellipse class="s" cx="1115" cy="1502.2" rx="8.4" ry="15.5"/></g>
<g id="f99-19"><rect class="f" x="1153.4" y="1486.7" width="16.6" height="31"/><text class="t" text-anchor="middle" transform="translate(1166.5 1551.7) scale(.72 1)">99-19</text></g>
</g>
</svg>
